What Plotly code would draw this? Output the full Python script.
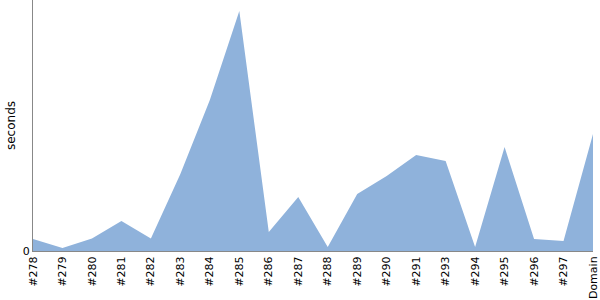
import plotly.graph_objects as go

builds = ["#278", "#279", "#280", "#281", "#282", "#283", "#284", "#285", "#286", "#287",
          "#288", "#289", "#290", "#291", "#293", "#294", "#295", "#296", "#297", "Domain"]
seconds = [0.24, 0.06, 0.25, 0.60, 0.25, 1.54, 3.02, 4.80, 0.38, 1.08,
           0.08, 1.14, 1.50, 1.92, 1.80, 0.08, 2.08, 0.24, 0.20, 2.34]

fig = go.Figure()
fig.add_trace(go.Scatter(
    x=builds, y=seconds, mode="lines", fill="tozeroy",
    fillcolor="rgb(143,178,219)", line=dict(width=0, color="rgb(143,178,219)"),
    hoverinfo="skip", showlegend=False,
))
fig.update_layout(
    width=600, height=300,
    margin=dict(l=33, r=5, t=0, b=49),
    paper_bgcolor="white", plot_bgcolor="white",
    font=dict(family="DejaVu Sans", size=11, color="black"),
    xaxis=dict(
        type="category", range=[0, len(builds) - 1], tickangle=-90,
        showgrid=False, zeroline=False, showline=True, linecolor="#888888", linewidth=1,
        ticks="", ticklen=0, tickfont=dict(size=11),
    ),
    yaxis=dict(
        range=[0, 5.02], tickvals=[0], ticktext=["0"],
        showgrid=False, zeroline=False, showline=True, linecolor="#888888", linewidth=1,
        ticks="", title=dict(text="seconds", font=dict(size=12), standoff=4),
    ),
)
fig.write_html("out.html")
